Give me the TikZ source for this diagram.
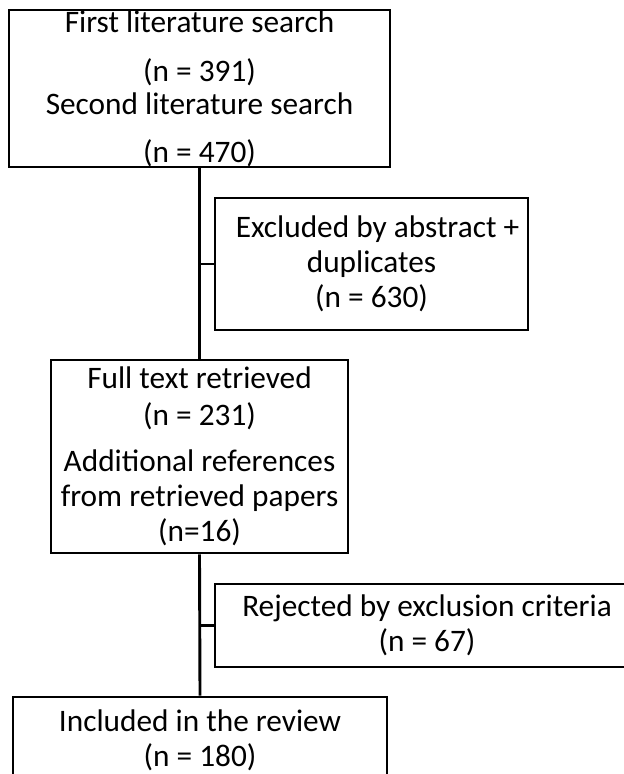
\documentclass[tikz,border=0pt]{standalone}
\usepackage{fontspec}
\setmainfont{Carlito}
\begin{document}
\begin{tikzpicture}[x=1pt,y=1pt,
  box/.style={draw=black,line width=2.9pt,rectangle,align=center,inner sep=0pt,
    font=\fontsize{31.3}{35}\selectfont,text=black},
  link/.style={draw=black,line width=2.9pt}]
\useasboundingbox (0,0) rectangle (624,-774);
\clip (0,0) rectangle (624,-774);
\fill[white] (0,0) rectangle (624,-774);
\node[box,minimum width=381pt,minimum height=157pt] (b1) at (199.5,-88.5)
  {First literature search\\[14pt](n = 391)\\[-2pt]Second literature search\\[13pt](n = 470)};
\node[box,minimum width=313pt,minimum height=132pt] (b2) at (371.5,-264)
  {\hspace*{12pt}Excluded by abstract +\\duplicates\\(n = 630)};
\node[box,minimum width=297pt,minimum height=193pt] (b3) at (199.5,-456.5)
  {Full text retrieved\\[2pt](n = 231)\\[11pt]Additional references\\from retrieved papers\\(n=16)};
\node[box,minimum width=424pt,minimum height=83pt] (b4) at (427,-625.5)
  {Rejected by exclusion criteria\\(n = 67)};
\node[box,minimum width=374pt,minimum height=86pt] (b5) at (200,-740)
  {Included in the review\\(n = 180)};
\draw[link] (b1.south) -- (b3.north);
\draw[link] (b3.south) -- (b5.north);
\draw[link] (b2.west) -- (b2.west -| b1.south);
\draw[link] (b4.west) -- (b4.west -| b3.south);
\end{tikzpicture}
\end{document}
